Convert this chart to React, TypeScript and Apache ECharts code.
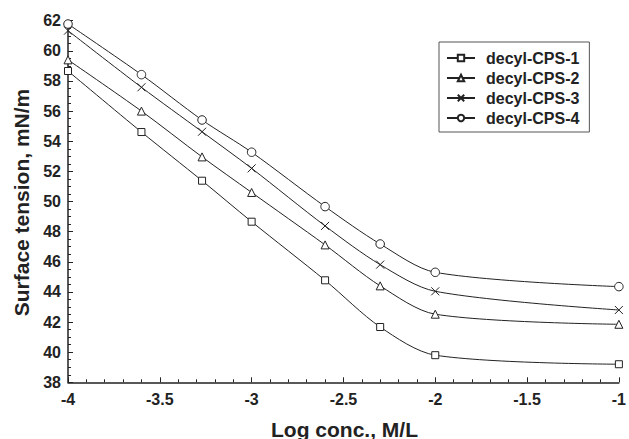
import React, { useEffect, useRef } from "react";
import * as echarts from "echarts";

const logConc = [-4, -3.6, -3.27, -3, -2.6, -2.3, -2, -1];
const cps1 = [58.66, 54.61, 51.38, 48.66, 44.77, 41.67, 39.8, 39.2];
const cps2 = [59.4, 56.0, 52.96, 50.6, 47.12, 44.4, 42.52, 41.85];
const cps3 = [61.34, 57.58, 54.63, 52.2, 48.38, 45.81, 44.04, 42.8];
const cps4 = [61.78, 58.42, 55.41, 53.27, 49.66, 47.18, 45.3, 44.35];
const seriesNames = ["decyl-CPS-1", "decyl-CPS-2", "decyl-CPS-3", "decyl-CPS-4"];
const xTitle = "Log conc., M/L";
const yTitle = "Surface tension, mN/m";

const FONT = "Arial, 'Liberation Sans', Helvetica, sans-serif";
const INK = "#222";

export default function App() {
  const ref = useRef<HTMLDivElement>(null);
  useEffect(() => {
    if (!ref.current) return;
    const chart = echarts.init(ref.current, undefined, { renderer: "svg" });
    const values = [cps1, cps2, cps3, cps4];
    const symbols = [
      "rect",
      "triangle",
      "path://M0,0L10,10M10,0L0,10",
      "circle",
    ];
    const sizes = [7, 8, 8, 8.5];
    const series = values.map((v, i) => ({
      name: seriesNames[i],
      type: "line",
      data: v.map((y, k) => [logConc[k], y]),
      smooth: 0.3,
      symbol: symbols[i],
      symbolSize: sizes[i],
      showAllSymbol: true,
      lineStyle: { color: INK, width: 1 },
      itemStyle: { color: "#fff", borderColor: INK, borderWidth: 1 },
      emphasis: { disabled: true },
    }));
    chart.setOption({
      animation: false,
      backgroundColor: "#fff",
      grid: { left: 68, right: 8, top: 20.7, bottom: 56.7, containLabel: false },
      legend: {
        orient: "vertical",
        left: 439,
        top: 42,
        padding: [8, 10, 6, 7],
        itemGap: 4,
        itemWidth: 28,
        itemHeight: 8,
        borderColor: "#555",
        borderWidth: 1,
        backgroundColor: "#fff",
        data: seriesNames,
        textStyle: {
          fontFamily: FONT,
          fontSize: 16,
          fontWeight: "bold",
          color: INK,
          padding: [0, 0, 0, 6],
        },
      },
      xAxis: {
        type: "value",
        min: -4,
        max: -1,
        interval: 0.5,
        axisLine: { show: true, lineStyle: { color: INK, width: 1.5 } },
        axisTick: { show: true, inside: true, length: 5, lineStyle: { color: INK } },
        minorTick: { show: true, splitNumber: 5, length: 3, lineStyle: { color: INK } },
        splitLine: { show: false },
        axisLabel: {
          fontFamily: FONT,
          fontSize: 16,
          fontWeight: "bold",
          color: INK,
          margin: 9,
        },
      },
      yAxis: {
        type: "value",
        min: 38,
        max: 62,
        interval: 2,
        axisLine: { show: true, lineStyle: { color: INK, width: 1.5 } },
        axisTick: { show: true, inside: true, length: 5, lineStyle: { color: INK } },
        minorTick: { show: true, splitNumber: 4, length: 3, lineStyle: { color: INK } },
        splitLine: { show: false },
        axisLabel: {
          fontFamily: FONT,
          fontSize: 16,
          fontWeight: "bold",
          color: INK,
          margin: 7,
        },
      },
      graphic: [
        {
          type: "text",
          x: 344.5,
          y: 429,
          style: {
            text: xTitle,
            fontFamily: FONT,
            fontSize: 21,
            fontWeight: "bold",
            fill: INK,
            align: "center",
            verticalAlign: "middle",
          },
        },
        {
          type: "text",
          x: 21,
          y: 202.5,
          rotation: Math.PI / 2,
          style: {
            text: yTitle,
            fontFamily: FONT,
            fontSize: 21,
            fontWeight: "bold",
            fill: INK,
            align: "center",
            verticalAlign: "middle",
          },
        },
      ],
      series,
    });
    return () => chart.dispose();
  }, []);
  return (
    <div
      ref={ref}
      style={{ position: "fixed", left: 0, top: 0, width: 629, height: 439 }}
    />
  );
}
